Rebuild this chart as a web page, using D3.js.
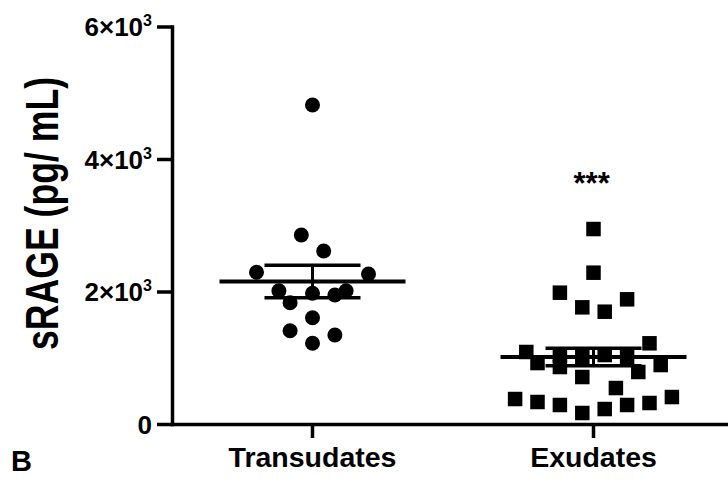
<!DOCTYPE html>
<html><head><meta charset="utf-8">
<script src="https://cdn.jsdelivr.net/npm/d3@7"></script>
<style>
html,body{margin:0;padding:0;background:#fff;}
svg{display:block;}
text{font-family:"Liberation Sans",Arial,sans-serif;font-weight:bold;fill:#000;}
</style></head>
<body>
<svg id="chart" width="728" height="483"></svg>
<script>
// ---- data ----
const categories = ["Transudates", "Exudates"];
const transudateValues = [4815, 2853, 2611, 2290, 2264, 2012, 1973, 1947, 2012, 1831, 1604, 1408, 1343, 1218];
const transudateSlots  = [0, -1, 1, -5, 5, -3, 0, 2, 3, -2, 0, -2, 2, 0];
const exudateValues = [2943, 2284, 1982, 1882, 1761, 1695, 1218, 1087, 920, 860, 1041, 1011, 1041, 1011, 890, 785, 709, 543, 377, 332, 287, 166, 226, 287, 317, 407];
const exudateSlots  = [0, 0, -3, 3, -1, 1, 5, -6, -5, -3, -3, -1, 1, 3, 6, 4, -1, 2, -7, -5, -3, -1, 1, 3, 5, 7];
const groupMeans = [2150, 1010];
const groupSEM = [245, 132];
const yTickValues = [0, 2000, 4000, 6000];
const yTickMantissa = ["0", "2", "4", "6"];
const significance = "***";
const yTitle = "sRAGE (pg/ mL)";
const panelLetter = "B";

// ---- layout ----
const svg = d3.select("#chart");
const x = d3.scaleBand().domain(categories).range([172, 734]).padding(0);
const y = d3.scaleLinear().domain([0, 6000]).range([424, 26.5]);
const cx = c => x(c) + x.bandwidth() / 2;
const slotW = 11.2;

// axes
const gx = svg.append("g").attr("transform", `translate(0,${y(0)})`)
  .call(d3.axisBottom(x).tickSize(14).tickSizeOuter(0).tickPadding(8));
gx.select(".domain").attr("stroke", "#000").attr("stroke-width", 3.5).attr("stroke-linecap", "square");
gx.selectAll(".tick line").attr("stroke", "#000").attr("stroke-width", 3.5);
gx.selectAll(".tick text").attr("font-size", 28.5).attr("dy", null).attr("y", 43)
  .style("font-family", '"Liberation Sans",Arial,sans-serif').style("font-weight", "bold").attr("fill", "#000");

const gy = svg.append("g").attr("transform", `translate(172,0)`)
  .call(d3.axisLeft(y).tickValues(yTickValues).tickSize(15).tickSizeOuter(0).tickFormat(() => ""));
gy.select(".domain").attr("stroke", "#000").attr("stroke-width", 3.5).attr("stroke-linecap", "square");
gy.selectAll(".tick line").attr("stroke", "#000").attr("stroke-width", 3.5);
gy.selectAll(".tick text").remove();
gy.selectAll(".tick").each(function(d, i) {
  const t = d3.select(this).append("text")
    .attr("x", -20).attr("dy", "0.36em").attr("text-anchor", "end")
    .attr("font-size", 26);
  if (d === 0) {
    t.text(yTickMantissa[i]);
  } else {
    t.append("tspan").text(yTickMantissa[i] + "\u00d710");
    t.append("tspan").attr("font-size", 16).attr("dy", "-0.62em").text("3");
  }
});

// points
svg.append("g").selectAll("circle").data(transudateValues).join("circle")
  .attr("cx", (d, i) => cx(categories[0]) + transudateSlots[i] * slotW)
  .attr("cy", d => y(d)).attr("r", 7.5).attr("fill", "#000");

const sq = 14.5;
svg.append("g").selectAll("rect").data(exudateValues).join("rect")
  .attr("x", (d, i) => cx(categories[1]) + exudateSlots[i] * slotW - sq / 2)
  .attr("y", d => y(d) - sq / 2).attr("width", sq).attr("height", sq).attr("fill", "#000");

// mean +/- SEM
const eg = svg.append("g").attr("stroke", "#000");
categories.forEach((c, i) => {
  const xc = cx(c);
  const m = groupMeans[i], s = groupSEM[i];
  eg.append("line").attr("x1", xc - 93).attr("x2", xc + 93).attr("y1", y(m)).attr("y2", y(m)).attr("stroke-width", 4);
  eg.append("line").attr("x1", xc).attr("x2", xc).attr("y1", y(m + s)).attr("y2", y(m - s)).attr("stroke-width", 3);
  [m + s, m - s].forEach(v => {
    eg.append("line").attr("x1", xc - 48).attr("x2", xc + 48).attr("y1", y(v)).attr("y2", y(v)).attr("stroke-width", 3.5);
  });
});

// significance
svg.append("text").attr("x", cx(categories[1]) - 20).attr("y", 194)
  .attr("font-size", 31).text(significance);

// y title
svg.append("text").attr("transform", `translate(58,213.5) rotate(-90)`)
  .attr("text-anchor", "middle").attr("font-size", 46)
  .attr("textLength", 273).attr("lengthAdjust", "spacingAndGlyphs").text(yTitle);

// panel letter
svg.append("text").attr("x", 11).attr("y", 471).attr("font-size", 29).text(panelLetter);
</script>
</body></html>
